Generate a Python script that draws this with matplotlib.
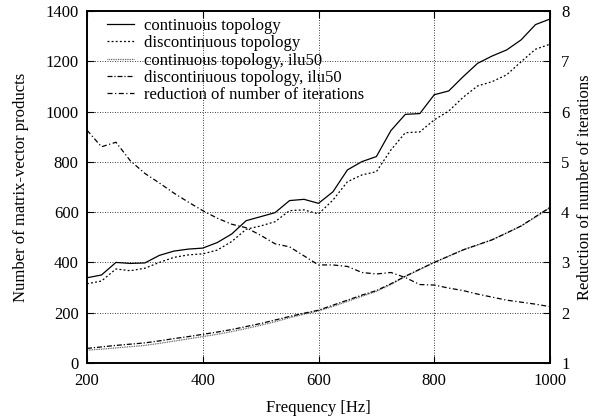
import matplotlib
matplotlib.use("Agg")
import matplotlib.pyplot as plt
import numpy as np

freq = [200, 225, 250, 275, 300, 325, 350, 375, 400, 425, 450, 475, 500, 525, 550, 575,
        600, 625, 650, 675, 700, 725, 750, 775, 800, 825, 850, 875, 900, 925, 950, 975, 1000]

cont = [339, 350, 400, 396, 398, 428, 445, 453, 457, 479, 513, 566, 582, 598, 646, 651,
        635, 681, 768, 801, 821, 924, 989, 992, 1067, 1082, 1139, 1192, 1221, 1245, 1285, 1346, 1368]

disc = [315, 326, 374, 367, 377, 400, 420, 430, 434, 449, 483, 532, 545, 562, 606, 609,
        593, 648, 721, 748, 761, 847, 916, 919, 967, 1002, 1057, 1102, 1119, 1146, 1198, 1248, 1268]

cont_ilu = [51, 55, 60, 65, 70, 78, 87, 96, 105, 114, 125, 137, 150, 164, 180, 194,
            207, 225, 245, 265, 285, 312, 344, 372, 400, 425, 450, 470, 490, 517, 545, 580, 617]

disc_ilu = [58, 64, 70, 75, 80, 88, 97, 105, 114, 123, 133, 145, 157, 171, 185, 198,
            210, 230, 250, 270, 288, 315, 345, 373, 400, 425, 450, 470, 490, 517, 545, 582, 619]

reduction = [5.63, 5.30, 5.39, 5.02, 4.77, 4.58, 4.38, 4.20, 4.03, 3.88, 3.76, 3.69, 3.54, 3.37, 3.31, 3.13,
             2.95, 2.95, 2.92, 2.80, 2.77, 2.80, 2.70, 2.56, 2.55, 2.49, 2.44, 2.37, 2.31, 2.25, 2.21, 2.17, 2.12]

labels = ["continuous topology", "discontinuous topology", "continuous topology, ilu50",
          "discontinuous topology, ilu50", "reduction of number of iterations"]

plt.rcParams['font.family'] = ['Liberation Serif', 'DejaVu Serif']
FS = 12
plt.rcParams['font.size'] = FS

fig = plt.figure(figsize=(5.93, 4.2), dpi=100)
ax = fig.add_axes([87/593, 1-363/420, (550-87)/593, (363-11)/420])
ax2 = ax.twinx()

lw = 0.9
h1, = ax.plot(freq, cont, color='black', lw=lw, ls='-')
h2, = ax.plot(freq, disc, color='black', lw=lw, ls=(0, (1.5, 1.8)))
h3, = ax.plot(freq, cont_ilu, color='#555555', lw=lw, ls=(0, (0.7, 0.7)))
h4, = ax.plot(freq, disc_ilu, color='black', lw=lw, ls=(0, (4, 1.5, 1, 1.5)))
h5, = ax2.plot(freq, reduction, color='black', lw=lw, ls=(0, (4, 2, 1, 2)))

ax.set_xlim(200, 1000)
ax.set_ylim(0, 1400)
ax2.set_ylim(1, 8)
ax.set_xticks([200, 400, 600, 800, 1000])
ax.set_yticks(range(0, 1401, 200))
ax2.set_yticks(range(1, 9))

ax.grid(True, color='black', ls=(0, (1, 2)), lw=0.6)
ax.tick_params(direction='in', length=5, width=0.8, top=True, right=False, labelsize=FS, pad=6)
ax.tick_params(axis='x', pad=7)
ax2.tick_params(direction='in', length=5, width=0.8, labelsize=FS, pad=8)
for a in (ax, ax2):
    for s in a.spines.values():
        s.set_linewidth(1.2)

ax.set_xlabel("Frequency [Hz]", fontsize=FS, labelpad=8)
ax.set_ylabel("Number of matrix-vector products", fontsize=FS, labelpad=12)
fig.text(585/593, 1 - 187/420, "Reduction of number of iterations", rotation=90,
         ha='center', va='center', fontsize=FS)

leg = ax.legend([h1, h2, h3, h4, h5], labels, loc='upper left', frameon=False,
                fontsize=FS, handlelength=1.6, handletextpad=0.6, labelspacing=0.08,
                borderaxespad=0, borderpad=0,
                bbox_to_anchor=((107-87)/463, 1 - (18-11)/352))

fig.savefig("out.png", dpi=100)
